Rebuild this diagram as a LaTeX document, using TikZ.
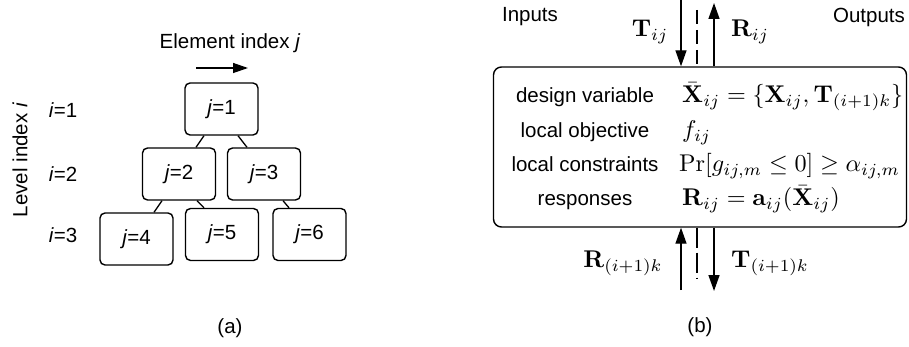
\documentclass[tikz,border=0pt]{standalone}
\usepackage[no-math]{fontspec}
\usepackage{graphicx}
\newfontfamily\hv{Liberation Sans}
\usetikzlibrary{arrows.meta,calc}
\newcommand{\sz}{\hv\fontsize{20.5}{24}\selectfont}
\newcommand{\mm}[1]{\scalebox{2.42}{$#1$}}
\tikzset{
  lbox/.style={draw, line width=1.4pt, rounded corners=5pt, minimum width=73pt, minimum height=52pt, inner sep=0pt, font=\sz},
  conn/.style={line width=1.3pt},
  arr/.style={line width=1.4pt, -{Triangle[length=16pt,width=11pt]}},
  txt/.style={font=\sz, inner sep=0pt},
  rtxt/.style={font=\sz, inner sep=0pt, anchor=base},
  mtxt/.style={inner sep=0pt, anchor=base west},
  mlab/.style={inner sep=0pt},
}
\begin{document}
\begin{tikzpicture}[x=1pt,y=-1pt]
\useasboundingbox (0,0) rectangle (909,347);
% ---------- (a) ----------
\node[txt] (elt) at (230,43) {Element index \textit{j}};
\coordinate (ea) at (196,68);
\coordinate (eb) at (248,68);
\draw[line width=1.3pt, -{Triangle[length=15pt,width=10pt]}] (ea) -- (eb);
\node[txt, rotate=90] (lev) at (20,160) {Level index \textit{i}};
\node[txt] (i1) at (63,110) {\textit{i}=1};
\node[txt] (i2) at (63,174) {\textit{i}=2};
\node[txt] (i3) at (63,235) {\textit{i}=3};
\node[lbox] (j1) at (221.5,109) {\textit{j}=1};
\node[lbox] (j2) at (179,174) {\textit{j}=2};
\node[lbox] (j3) at (264,174) {\textit{j}=3};
\node[lbox] (j4) at (136.5,239) {\textit{j}=4};
\node[lbox] (j5) at (222,234.5) {\textit{j}=5};
\node[lbox] (j6) at (309.5,234.5) {\textit{j}=6};
\draw[conn] ($(j1.south)+(-17.5,0)$) -- ($(j2.north)+(17,0)$);
\draw[conn] ($(j1.south)+(16.5,0)$) -- ($(j3.north)+(-17,0)$);
\draw[conn] ($(j2.south)+(-17,0)$) -- ($(j4.north)+(17.5,0)$);
\draw[conn] ($(j2.south)+(18,0)$) -- ($(j5.north)+(-18,0)$);
\draw[conn] ($(j3.south)+(19,0)$) -- ($(j6.north)+(-20.5,0)$);
\node[txt] (capa) at (230,328) {(a)};
% ---------- (b) ----------
\node[draw, line width=1.4pt, rounded corners=8pt, minimum width=413pt, minimum height=160pt, inner sep=0pt] (main) at (700,147) {};
\node[txt] (inp) at (530,17) {Inputs};
\node[txt] (outp) at (869,17) {Outputs};
\coordinate (ttop) at (681,0);
\coordinate (rtop) at (714,3);
\coordinate (dtop) at (697,10);
\draw[arr] (ttop) -- (ttop |- main.north);
\draw[arr] (main.north -| rtop) -- (rtop);
\draw[line width=1.2pt, dash pattern=on 14pt off 6pt] (dtop) -- (dtop |- main.north);
\node[mlab] (tij) at (650,32) {\mm{\mathbf{T}_{ij}}};
\node[mlab] (rij) at (750,32) {\mm{\mathbf{R}_{ij}}};
\coordinate (rbot) at (681,290);
\coordinate (tbot) at (714,291);
\coordinate (dbot) at (697,293);
\draw[arr] (rbot) -- (rbot |- main.south);
\draw[arr] (main.south -| tbot) -- (tbot);
\draw[line width=1.2pt, dash pattern=on 20pt off 5pt on 20pt off 5pt on 1.5pt off 20pt] (main.south -| dbot) -- (dbot);
\node[mlab] (rk) at (623,263) {\mm{\mathbf{R}_{(i+1)k}}};
\node[mlab] (tk) at (770,263) {\mm{\mathbf{T}_{(i+1)k}}};
% rows
\node[rtxt] (l1) at (585,102.5) {design variable};
\node[rtxt] (l2) at (585,137.5) {local objective};
\node[rtxt] (l3) at (585,172) {local constraints};
\node[rtxt] (l4) at (585,206) {responses};
\node[mtxt] (m1) at (682,102.5) {\mm{\bar{\mathbf{X}}_{ij} = \{\mathbf{X}_{ij}, \mathbf{T}_{(i+1)k}\}}};
\node[mtxt] (m2) at (682,137.5) {\mm{f_{ij}}};
\node[mtxt] (m3) at (679,172) {\mm{\mathrm{Pr}[g_{ij,m} \leq 0] \geq \alpha_{ij,m}}};
\node[mtxt] (m4) at (682,206) {\mm{\mathbf{R}_{ij} = \mathbf{a}_{ij}(\bar{\mathbf{X}}_{ij})}};
\node[txt] (capb) at (700,327) {(b)};
\end{tikzpicture}
\end{document}
